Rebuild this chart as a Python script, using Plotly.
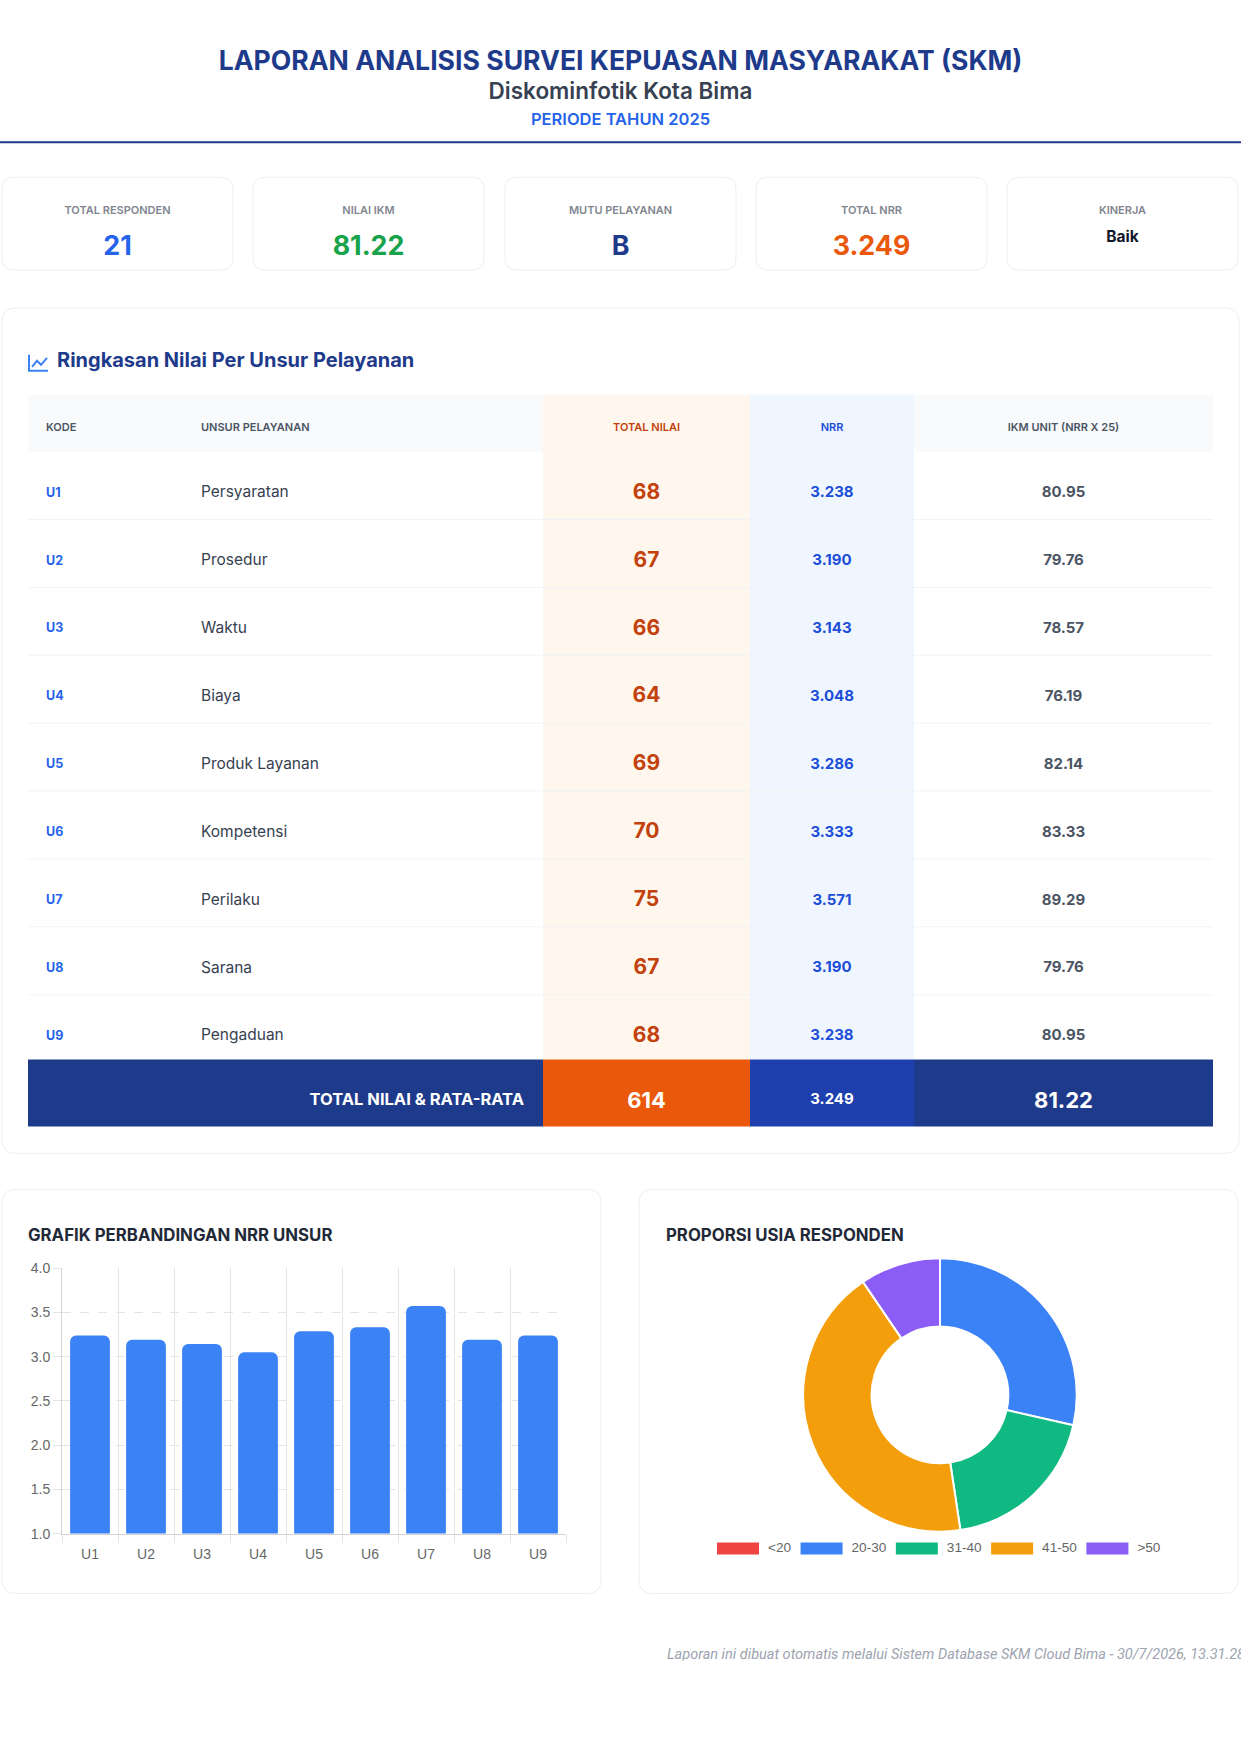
import plotly.graph_objects as go

W, H = 1241, 1754

# ---- data ----
kpi_labels = ["TOTAL RESPONDEN", "NILAI IKM", "MUTU PELAYANAN", "TOTAL NRR", "KINERJA"]
kpi_values = ["21", "81.22", "B", "3.249", "Baik"]

table_headers = ["KODE", "UNSUR PELAYANAN", "TOTAL NILAI", "NRR", "IKM UNIT (NRR X 25)"]
kode = ["U1", "U2", "U3", "U4", "U5", "U6", "U7", "U8", "U9"]
unsur = ["Persyaratan", "Prosedur", "Waktu", "Biaya", "Produk Layanan",
         "Kompetensi", "Perilaku", "Sarana", "Pengaduan"]
total_nilai = [68, 67, 66, 64, 69, 70, 75, 67, 68]
nrr = [3.238, 3.190, 3.143, 3.048, 3.286, 3.333, 3.571, 3.190, 3.238]
ikm_unit = [80.95, 79.76, 78.57, 76.19, 82.14, 83.33, 89.29, 79.76, 80.95]

footer_label = "TOTAL NILAI & RATA-RATA"
footer_total = 614
footer_nrr = 3.249
footer_ikm = 81.22

usia_labels = ["<20", "20-30", "31-40", "41-50", ">50"]
usia_counts = [0, 6, 4, 9, 2]
usia_colors = ["#ef4444", "#3b82f6", "#10b981", "#f59e0b", "#8b5cf6"]

note = "Laporan ini dibuat otomatis melalui Sistem Database SKM Cloud Bima - 30/7/2026, 13.31.28"

NAVY = "#1e3a8a"
FONT = "Inter"
CHART_FONT = "Liberation Sans"

# vertical calibration: page y (as measured on the source) -> figure pixel
Y_SCALE, Y_SHIFT = 1.0073, -4.53


def cy(y):
    return Y_SCALE * y + Y_SHIFT


def px(x):
    return x / W


def py(y):
    return 1 - cy(y) / H


def rect(x0, y0, x1, y1, fill):
    return dict(type="rect", xref="paper", yref="paper", layer="below",
                x0=px(x0), x1=px(x1), y0=py(y1), y1=py(y0),
                fillcolor=fill, line=dict(width=0))


def card(x0, y0, x1, y1, r=12):
    p = (f"M{px(x0 + r)},{py(y0)} L{px(x1 - r)},{py(y0)} Q{px(x1)},{py(y0)} {px(x1)},{py(y0 + r)} "
         f"L{px(x1)},{py(y1 - r)} Q{px(x1)},{py(y1)} {px(x1 - r)},{py(y1)} "
         f"L{px(x0 + r)},{py(y1)} Q{px(x0)},{py(y1)} {px(x0)},{py(y1 - r)} "
         f"L{px(x0)},{py(y0 + r)} Q{px(x0)},{py(y0)} {px(x0 + r)},{py(y0)} Z")
    return dict(type="path", xref="paper", yref="paper", layer="below", path=p,
                fillcolor="white", line=dict(color="#eceef2", width=1))


def line_path(points, color, width=2):
    p = "M" + " L".join(f"{px(a)},{py(b)}" for a, b in points)
    return dict(type="path", xref="paper", yref="paper", layer="below", path=p,
                line=dict(color=color, width=width))


fig = go.Figure()


def txt(xs, ys, texts, size, color, weight=400, pos="middle center", family=FONT,
        style="normal", axes=("x3", "y3"), clip=False):
    fig.add_trace(go.Scatter(
        x=xs, y=ys, text=texts, mode="text", textposition=pos,
        textfont=dict(family=family, size=size, color=color, weight=weight, style=style),
        xaxis=axes[0], yaxis=axes[1], hoverinfo="skip", showlegend=False, cliponaxis=clip))


# rough Arial advance widths (em) for the chart legend labels
char_w = {"<": 0.584, ">": 0.584, "-": 0.333}


def text_width(s, size):
    return sum(char_w.get(c, 0.556) for c in s) * size


shapes = []

# ---- header ----
txt([W / 2], [60], ["LAPORAN ANALISIS SURVEI KEPUASAN MASYARAKAT (SKM)"], 26.6, NAVY, 700)
txt([W / 2], [90], ["Diskominfotik Kota Bima"], 22.5, "#374151", 600)
txt([W / 2], [118], ["PERIODE TAHUN 2025"], 16.5, "#2563eb", 600)
shapes.append(rect(0, 138, W, 140, NAVY))

# ---- KPI cards ----
card_x = [2, 253, 505, 756, 1007]
card_w = 231
kpi_colors = ["#2563eb", "#16a34a", NAVY, "#ea580c", "#111827"]
for cx in card_x:
    shapes.append(card(cx, 174, cx + card_w, 267))
centers = [cx + card_w / 2 for cx in card_x]
txt(centers, [208] * 5, kpi_labels, 11, "#80868f", 600)
txt(centers[:4], [245] * 4, kpi_values[:4], 26.8, kpi_colors[:4], 700)
txt(centers[4:], [235], kpi_values[4:], 15.5, kpi_colors[4], 700)

# ---- table card ----
shapes.append(card(2, 305, 1239, 1152, 14))
shapes.append(line_path([(29, 352), (29, 368), (48, 368)], "#3b82f6", 2))
shapes.append(line_path([(32, 364), (37, 358), (41, 362), (47, 355)], "#3b82f6", 2))
txt([57], [359], ["Ringkasan Nilai Per Unsur Pelayanan"], 20, NAVY, 700, "middle right")

TL, TR = 28, 1213
col_edges = [543, 750, 914]
hdr_top, hdr_bot = 392, 449
row_h = 68
foot_top, foot_bot = 1058, 1125

shapes.append(rect(TL, hdr_top, TR, hdr_bot, "#f8fafc"))
shapes.append(rect(col_edges[0], hdr_top, col_edges[1], foot_top, "#fff7ed"))
shapes.append(rect(col_edges[1], hdr_top, col_edges[2], foot_top, "#eff6ff"))
for i in range(1, len(kode)):
    shapes.append(rect(TL, hdr_bot + row_h * i - 0.5, TR, hdr_bot + row_h * i + 0.5, "#f1f3f6"))

col_x = [46, 201, (col_edges[0] + col_edges[1]) / 2, (col_edges[1] + col_edges[2]) / 2,
         (col_edges[2] + TR) / 2]
hdr_colors = ["#4b5563", "#4b5563", "#c2410c", "#1d4ed8", "#4b5563"]
hdr_pos = ["middle right", "middle right", "middle center", "middle center", "middle center"]
for j, h in enumerate(table_headers):
    txt([col_x[j]], [426], [h], 11, hdr_colors[j], 600, hdr_pos[j])

row_y = [hdr_bot + row_h * i + 42 for i in range(len(kode))]
txt([col_x[0]] * 9, row_y, kode, 12.5, "#2563eb", 700, "middle right")
txt([col_x[1]] * 9, row_y, unsur, 15.5, "#374151", 400, "middle right")
txt([col_x[2]] * 9, row_y, [str(v) for v in total_nilai], 21, "#c2410c", 700)
txt([col_x[3]] * 9, row_y, [f"{v:.3f}" for v in nrr], 15, "#1d4ed8", 700)
txt([col_x[4]] * 9, row_y, [f"{v:.2f}" for v in ikm_unit], 15, "#4b5563", 700)

# footer row
shapes.append(rect(TL, foot_top, col_edges[0], foot_bot, NAVY))
shapes.append(rect(col_edges[0], foot_top, col_edges[1], foot_bot, "#ea580c"))
shapes.append(rect(col_edges[1], foot_top, col_edges[2], foot_bot, "#1e40af"))
shapes.append(rect(col_edges[2], foot_top, TR, foot_bot, NAVY))
fy = 1099
txt([524], [fy], [footer_label], 16.5, "white", 700, "middle left")
txt([col_x[2]], [fy + 2], [str(footer_total)], 22, "white", 700)
txt([col_x[3]], [fy], [f"{footer_nrr:.3f}"], 15, "white", 700)
txt([col_x[4]], [fy + 2], [f"{footer_ikm:.2f}"], 22, "white", 700)

# ---- bottom cards ----
shapes.append(card(2, 1188, 601, 1593, 14))
shapes.append(card(639, 1188, 1238, 1593, 14))
txt([28], [1236], ["GRAFIK PERBANDINGAN NRR UNSUR"], 16.8, "#1f2937", 700, "middle right")
txt([666], [1236], ["PROPORSI USIA RESPONDEN"], 16.8, "#1f2937", 700, "middle right")

fig.add_trace(go.Bar(
    x=kode, y=nrr, width=0.71,
    marker=dict(color="#3b82f6", cornerradius=6, line=dict(width=0)),
    hoverinfo="skip", showlegend=False))

fig.add_trace(go.Pie(
    labels=usia_labels, values=usia_counts, hole=0.5, sort=False,
    direction="clockwise", rotation=0, textinfo="none", hoverinfo="skip",
    marker=dict(colors=usia_colors, line=dict(color="white", width=2)),
    showlegend=False,
    domain=dict(x=[px(940 - 137), px(940 + 137)], y=[py(1394 + 137), py(1394 - 137)])))

# custom legend for the donut
lx = 717
leg_text_x = []
for lab, col in zip(usia_labels, usia_colors):
    shapes.append(rect(lx, 1542, lx + 42, 1554, col))
    leg_text_x.append(lx + 51)
    lx = lx + 51 + text_width(lab, 13.6) + 9.5
txt(leg_text_x, [1548] * 5, usia_labels, 13.6, "#666666", 400, "middle right", CHART_FONT)

# ---- footer note, clipped at its lower edge like the source page ----
txt([667], [1655], [note], 14.5, "#9ca3af", 400, "middle right", "Roboto", "italic",
    axes=("x4", "y4"), clip=True)

grid = "#e4e4e4"
chart_tick = dict(family=CHART_FONT, size=14, color="#666666")
fig.update_layout(
    width=W, height=H, margin=dict(l=0, r=0, t=0, b=0),
    paper_bgcolor="white", plot_bgcolor="rgba(0,0,0,0)",
    shapes=shapes,
    xaxis=dict(domain=[px(62), px(566)], range=[-0.5, 8.5], tickson="boundaries",
               ticks="outside", ticklen=8, tickcolor=grid, showgrid=True, gridcolor=grid,
               showline=True, linecolor="#d4d4d4", fixedrange=True, ticklabelstandoff=8,
               tickfont=chart_tick),
    yaxis=dict(domain=[py(1533), py(1267)], range=[1, 4], dtick=0.5, tickformat=".1f",
               ticks="outside", ticklen=8, tickcolor=grid, showgrid=True, gridcolor=grid,
               griddash="dash", zeroline=False, showline=True, linecolor="#d4d4d4",
               fixedrange=True, tickfont=chart_tick),
    xaxis3=dict(domain=[0, 1], range=[0, W], visible=False, fixedrange=True, anchor="y3"),
    yaxis3=dict(domain=[0, 1], range=[(H - Y_SHIFT) / Y_SCALE, -Y_SHIFT / Y_SCALE],
                visible=False, fixedrange=True, anchor="x3"),
    xaxis4=dict(domain=[0, 1], range=[0, W], visible=False, fixedrange=True, anchor="y4"),
    yaxis4=dict(domain=[py(1660), py(1620)], range=[1660, 1620], visible=False,
                fixedrange=True, anchor="x4"),
)

fig.write_html("out.html", config={"displayModeBar": False},
               post_script="document.body.style.margin='0';")
